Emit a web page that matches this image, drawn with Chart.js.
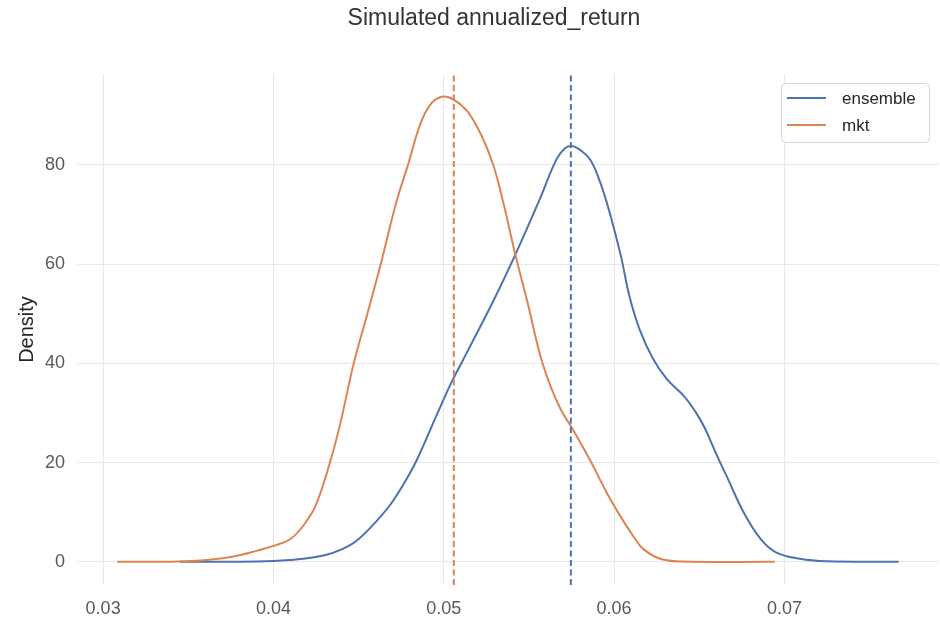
<!DOCTYPE html>
<html>
<head>
<meta charset="utf-8">
<title>Simulated annualized_return</title>
<script src="https://cdn.jsdelivr.net/npm/chart.js@4.4.1/dist/chart.umd.min.js"></script>
<style>
  html, body { margin: 0; padding: 0; background: #ffffff; }
  #kde { display: block; }
</style>
</head>
<body>
<canvas id="kde" width="940" height="620"></canvas>
<script>
// KDE of simulated annualized returns
const ensembleX = [0.0345, 0.0380, 0.0400, 0.0410, 0.0420, 0.0430, 0.0440, 0.0449, 0.0460, 0.0469,
  0.0477, 0.0484, 0.0496, 0.0504, 0.0510, 0.0516, 0.0529, 0.0542, 0.0557, 0.0566,
  0.0571, 0.0575, 0.0580, 0.0586, 0.0592, 0.0598, 0.0604, 0.0609, 0.0615, 0.0623,
  0.0631, 0.0641, 0.0648, 0.0653, 0.0660, 0.0666, 0.0676, 0.0686, 0.0695, 0.0709,
  0.0725, 0.0767];
const ensembleY = [0, 0.02, 0.15, 0.35, 0.7, 1.3, 2.5, 4.3, 8.0, 11.7,
  16.0, 20.4, 29.7, 35.8, 39.8, 43.8, 52.5, 61.9, 73.6, 81.0,
  83.3, 83.8, 83.0, 81.0, 76.3, 69.6, 61.6, 53.5, 46.8, 40.8,
  36.8, 33.4, 30.1, 27.1, 21.7, 17.3, 10.0, 4.6, 1.9, 0.6,
  0.1, 0];

const mktX = [0.03082, 0.0340, 0.0355, 0.0370, 0.0380, 0.0390, 0.0400, 0.0410, 0.0418, 0.0425,
  0.0434, 0.0440, 0.0447, 0.0455, 0.0463, 0.0472, 0.0479, 0.0486, 0.0492, 0.0499,
  0.0506, 0.0514, 0.0522, 0.0529, 0.0535, 0.0542, 0.0549, 0.0557, 0.0563, 0.0569,
  0.0575, 0.0586, 0.0596, 0.0604, 0.0612, 0.0617, 0.0627, 0.0640, 0.06943];
const mktY = [0, 0.02, 0.2, 0.7, 1.3, 2.2, 3.2, 4.6, 7.5, 11.5,
  21.0, 29.0, 39.8, 49.8, 60.0, 72.3, 80.0, 88.0, 92.1, 93.7,
  93.1, 90.7, 86.0, 80.0, 72.3, 61.9, 52.5, 41.1, 35.1, 30.5,
  27.1, 20.4, 13.7, 9.0, 4.8, 2.6, 0.6, 0.05, 0];

// means shown as dashed verticals
const ensembleMean = 0.05746;
const mktMean = 0.05059;

const xTicks = [0.03, 0.04, 0.05, 0.06, 0.07];
const yTicks = [0, 20, 40, 60, 80];

const blue = "#4c72b0";
const orange = "#dd8452";
const fontFamily = "'Liberation Sans', Arial, sans-serif";
const titleText = "Simulated annualized_return";

const yMin = -4.68, yMax = 98.3;
const xMin = 0.028525, xMax = 0.079015;

function toPoints(xs, ys) {
    return xs.map((x, i) => ({ x: x, y: ys[i] }));
}

// title centred over the axes rather than the canvas
const axesTitle = {
    id: "axesTitle",
    afterDraw(chart) {
        const ctx = chart.ctx;
        ctx.save();
        ctx.font = "23px " + fontFamily;
        ctx.fillStyle = "#333333";
        ctx.textAlign = "center";
        ctx.textBaseline = "alphabetic";
        ctx.fillText(titleText, 494, 25);
        ctx.restore();
    }
};

// legend box drawn inside the plot, top right
const innerLegend = {
    id: "innerLegend",
    afterDatasetsDraw(chart) {
        const ctx = chart.ctx;
        const items = chart.data.datasets.filter(d => !d.isMean);
        const boxX = 781, boxY = 83, boxW = 148, boxH = 59;
        ctx.save();
        ctx.fillStyle = "rgba(255,255,255,0.85)";
        ctx.strokeStyle = "#d6d6d6";
        ctx.lineWidth = 1;
        ctx.beginPath();
        ctx.roundRect(boxX + 0.5, boxY + 0.5, boxW, boxH, 4);
        ctx.fill();
        ctx.stroke();
        ctx.font = "17px " + fontFamily;
        ctx.textBaseline = "middle";
        items.forEach((d, i) => {
            const y = boxY + 15 + i * 27;
            ctx.strokeStyle = d.borderColor;
            ctx.lineWidth = 2;
            ctx.beginPath();
            ctx.moveTo(boxX + 6, y);
            ctx.lineTo(boxX + 45, y);
            ctx.stroke();
            ctx.fillStyle = "#262626";
            ctx.fillText(d.label, boxX + 61, y + 1);
        });
        ctx.restore();
    }
};

const ctx = document.getElementById("kde").getContext("2d");
new Chart(ctx, {
    type: "line",
    data: {
        datasets: [
            {
                label: "ensemble",
                data: toPoints(ensembleX, ensembleY),
                borderColor: blue,
                borderWidth: 2,
                pointRadius: 0,
                tension: 0.4,
                order: 4
            },
            {
                label: "mkt",
                data: toPoints(mktX, mktY),
                borderColor: orange,
                borderWidth: 2,
                pointRadius: 0,
                tension: 0.4,
                order: 3
            },
            {
                label: "ensemble mean",
                isMean: true,
                data: [{ x: ensembleMean, y: yMin }, { x: ensembleMean, y: yMax }],
                borderColor: blue,
                borderWidth: 2,
                borderDash: [6, 3.5],
                pointRadius: 0,
                order: 2
            },
            {
                label: "mkt mean",
                isMean: true,
                data: [{ x: mktMean, y: yMin }, { x: mktMean, y: yMax }],
                borderColor: orange,
                borderWidth: 2,
                borderDash: [6, 3.5],
                pointRadius: 0,
                order: 1
            }
        ]
    },
    options: {
        responsive: false,
        animation: false,
        devicePixelRatio: 1,
        layout: { padding: { left: 0, right: 2, top: 74, bottom: 0 } },
        plugins: {
            legend: { display: false },
            tooltip: { enabled: false },
            title: { display: false }
        },
        scales: {
            x: {
                type: "linear",
                min: xMin,
                max: xMax,
                afterBuildTicks: s => { s.ticks = xTicks.map(v => ({ value: v })); },
                afterFit: s => { s.height = 35; },
                grid: { color: "#e8e8e8", lineWidth: 1, drawTicks: false },
                border: { display: false },
                ticks: {
                    padding: 13,
                    color: "#595959",
                    font: { family: fontFamily, size: 18 },
                    callback: v => v.toFixed(2)
                }
            },
            y: {
                min: yMin,
                max: yMax,
                afterBuildTicks: s => { s.ticks = yTicks.map(v => ({ value: v })); },
                afterFit: s => { s.width = 78; },
                grid: { color: "#e8e8e8", lineWidth: 1, drawTicks: false },
                border: { display: false },
                title: {
                    display: true,
                    text: "Density",
                    color: "#262626",
                    font: { family: fontFamily, size: 20 },
                    padding: { top: 15, bottom: 0 }
                },
                ticks: {
                    padding: 13,
                    color: "#595959",
                    font: { family: fontFamily, size: 18 }
                }
            }
        }
    },
    plugins: [innerLegend, axesTitle]
});
</script>
</body>
</html>
